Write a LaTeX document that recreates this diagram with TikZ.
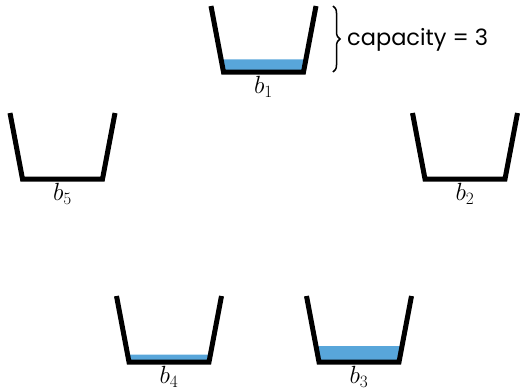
\documentclass[tikz,border=0pt]{standalone}
\usepackage{fontspec}
\newfontfamily\capfont{Poppins}
\usetikzlibrary{decorations.pathreplacing}
\definecolor{water}{RGB}{88,166,218}
\newcommand\drawbucket[5]{%
  \fill[water] (#2-40,#3+66) -- (#2+40,#3+66) -- (#2+40+12.5*#4/66,#3+66-#4) -- (#2-40-12.5*#4/66,#3+66-#4) -- cycle;
  \draw[bucket] (#2-52.5,#3) -- (#2-40,#3+66) -- (#2+40,#3+66) -- (#2+52.5,#3);
  \node[lab] (#1) at (#2,#3+70.5) {$#5$};
}
\begin{document}
\begin{tikzpicture}[x=1pt,y=-1pt,
  bucket/.style={line width=5pt, line join=miter, line cap=butt},
  lab/.style={font=\fontsize{23.5}{27}\selectfont, inner sep=0pt, anchor=north},
  captext/.style={font=\capfont\fontsize{22.5}{26}\selectfont, inner sep=0pt, anchor=west}]
\useasboundingbox (0,0) rectangle (520,389);
\drawbucket{b1}{263.5}{6}{12.7}{b_1}
\drawbucket{b2}{465}{113}{0}{b_2}
\drawbucket{b3}{359}{296}{16}{b_3}
\drawbucket{b4}{169}{296}{7.3}{b_4}
\drawbucket{b5}{62.5}{113}{0}{b_5}
\coordinate (bt) at (333,6);
\coordinate (bb) at (333,72);
\draw[decorate, decoration={brace, amplitude=7pt}, line width=1.5pt] (bt) -- (bb);
\node[captext] (cap) at (347,40) {capacity = 3};
\end{tikzpicture}
\end{document}
